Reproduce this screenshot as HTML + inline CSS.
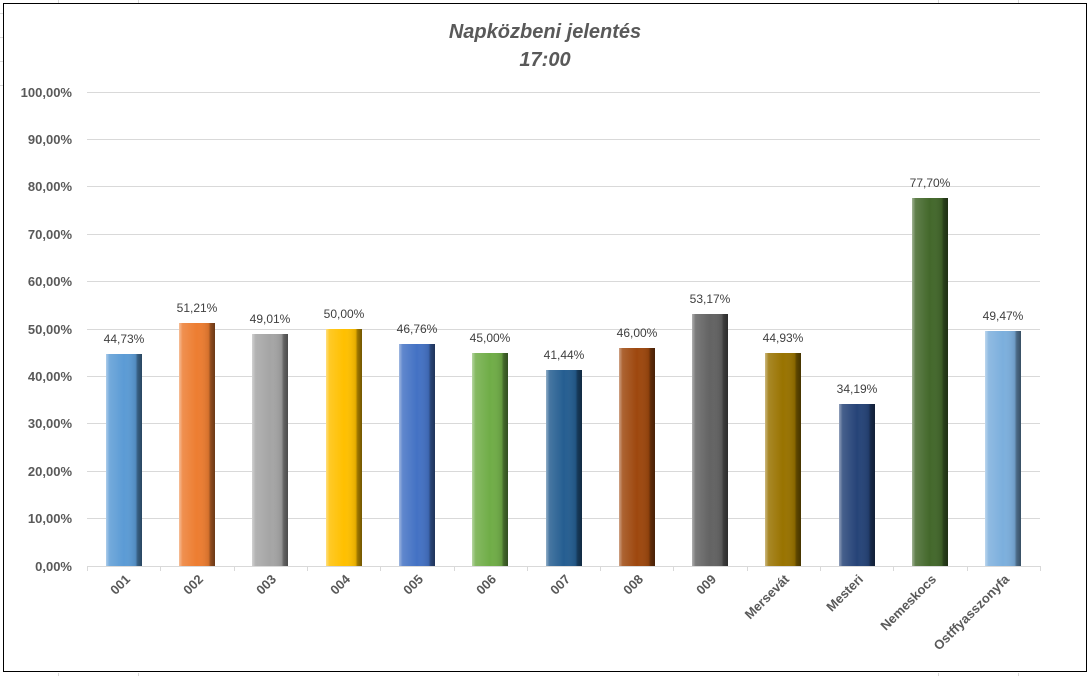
<!DOCTYPE html>
<html><head><meta charset="utf-8"><style>body{margin:0;background:#fff}svg{display:block}</style></head><body>
<svg width="1091" height="676" xmlns="http://www.w3.org/2000/svg" font-family="Liberation Sans, sans-serif">
<defs>
<linearGradient id="sh" x1="0" x2="1" y1="0" y2="0">
<stop offset="0" stop-color="#fff" stop-opacity="0.5"/><stop offset="0.1" stop-color="#fff" stop-opacity="0.15"/>
<stop offset="0.5" stop-color="#fff" stop-opacity="0"/><stop offset="0.82" stop-color="#000" stop-opacity="0.1"/>
<stop offset="0.88" stop-color="#000" stop-opacity="0.4"/>
<stop offset="1" stop-color="#000" stop-opacity="0.55"/></linearGradient>
</defs>
<g stroke="#d9d9d9" stroke-width="1">
<line x1="58.5" y1="0" x2="58.5" y2="3"/><line x1="138.5" y1="0" x2="138.5" y2="3"/><line x1="938.5" y1="0" x2="938.5" y2="3"/><line x1="1018.5" y1="0" x2="1018.5" y2="3"/>
<line x1="58.5" y1="673" x2="58.5" y2="676"/><line x1="138.5" y1="673" x2="138.5" y2="676"/><line x1="938.5" y1="673" x2="938.5" y2="676"/><line x1="1018.5" y1="673" x2="1018.5" y2="676"/>
<line x1="0" y1="13.5" x2="3" y2="13.5"/><line x1="0" y1="37.5" x2="3" y2="37.5"/><line x1="0" y1="61.5" x2="3" y2="61.5"/><line x1="0" y1="85.5" x2="3" y2="85.5"/>
</g>
<rect x="3.5" y="3.5" width="1083" height="668" fill="#fff" stroke="#000" stroke-width="1"/>
<text x="545" y="38" text-anchor="middle" font-size="20" font-weight="bold" font-style="italic" fill="#595959">Napközbeni jelentés</text>
<text x="545" y="66" text-anchor="middle" font-size="20" font-weight="bold" font-style="italic" fill="#595959">17:00</text>
<g stroke="#d9d9d9" stroke-width="1">
<line x1="87" x2="1040" y1="566.5" y2="566.5"/><line x1="87" x2="1040" y1="518.5" y2="518.5"/><line x1="87" x2="1040" y1="471.5" y2="471.5"/><line x1="87" x2="1040" y1="423.5" y2="423.5"/><line x1="87" x2="1040" y1="376.5" y2="376.5"/><line x1="87" x2="1040" y1="329.5" y2="329.5"/><line x1="87" x2="1040" y1="281.5" y2="281.5"/><line x1="87" x2="1040" y1="234.5" y2="234.5"/><line x1="87" x2="1040" y1="186.5" y2="186.5"/><line x1="87" x2="1040" y1="139.5" y2="139.5"/><line x1="87" x2="1040" y1="92.5" y2="92.5"/>
<line x1="87.5" x2="87.5" y1="566" y2="571"/><line x1="160.5" x2="160.5" y1="566" y2="571"/><line x1="234.5" x2="234.5" y1="566" y2="571"/><line x1="307.5" x2="307.5" y1="566" y2="571"/><line x1="380.5" x2="380.5" y1="566" y2="571"/><line x1="454.5" x2="454.5" y1="566" y2="571"/><line x1="527.5" x2="527.5" y1="566" y2="571"/><line x1="600.5" x2="600.5" y1="566" y2="571"/><line x1="673.5" x2="673.5" y1="566" y2="571"/><line x1="747.5" x2="747.5" y1="566" y2="571"/><line x1="820.5" x2="820.5" y1="566" y2="571"/><line x1="893.5" x2="893.5" y1="566" y2="571"/><line x1="967.5" x2="967.5" y1="566" y2="571"/><line x1="1040.5" x2="1040.5" y1="566" y2="571"/>
</g>
<g font-size="13" font-weight="bold" fill="#595959" text-anchor="end">
<text x="72" y="571">0,00%</text><text x="72" y="523">10,00%</text><text x="72" y="476">20,00%</text><text x="72" y="428">30,00%</text><text x="72" y="381">40,00%</text><text x="72" y="334">50,00%</text><text x="72" y="286">60,00%</text><text x="72" y="239">70,00%</text><text x="72" y="191">80,00%</text><text x="72" y="144">90,00%</text><text x="72" y="97">100,00%</text>
</g>
<g>
<rect x="106" y="354" width="36" height="212" fill="#5B9BD5"/>
<rect x="179" y="323" width="36" height="243" fill="#ED7D31"/>
<rect x="252" y="334" width="36" height="232" fill="#A5A5A5"/>
<rect x="326" y="329" width="36" height="237" fill="#FFC000"/>
<rect x="399" y="344" width="36" height="222" fill="#4472C4"/>
<rect x="472" y="353" width="36" height="213" fill="#70AD47"/>
<rect x="546" y="370" width="36" height="196" fill="#255E91"/>
<rect x="619" y="348" width="36" height="218" fill="#9E480E"/>
<rect x="692" y="314" width="36" height="252" fill="#636363"/>
<rect x="765" y="353" width="36" height="213" fill="#997300"/>
<rect x="839" y="404" width="36" height="162" fill="#264478"/>
<rect x="912" y="198" width="36" height="368" fill="#43682B"/>
<rect x="985" y="331" width="36" height="235" fill="#7CAFDD"/>
</g>
<g fill="url(#sh)">
<rect x="106" y="354" width="36" height="212"/>
<rect x="179" y="323" width="36" height="243"/>
<rect x="252" y="334" width="36" height="232"/>
<rect x="326" y="329" width="36" height="237"/>
<rect x="399" y="344" width="36" height="222"/>
<rect x="472" y="353" width="36" height="213"/>
<rect x="546" y="370" width="36" height="196"/>
<rect x="619" y="348" width="36" height="218"/>
<rect x="692" y="314" width="36" height="252"/>
<rect x="765" y="353" width="36" height="213"/>
<rect x="839" y="404" width="36" height="162"/>
<rect x="912" y="198" width="36" height="368"/>
<rect x="985" y="331" width="36" height="235"/>
</g>
<g font-size="12" fill="#404040" text-anchor="middle">
<text x="124" y="343">44,73%</text>
<text x="197" y="312">51,21%</text>
<text x="270" y="323">49,01%</text>
<text x="344" y="318">50,00%</text>
<text x="417" y="333">46,76%</text>
<text x="490" y="342">45,00%</text>
<text x="564" y="359">41,44%</text>
<text x="637" y="337">46,00%</text>
<text x="710" y="303">53,17%</text>
<text x="783" y="342">44,93%</text>
<text x="857" y="393">34,19%</text>
<text x="930" y="187">77,70%</text>
<text x="1003" y="320">49,47%</text>
</g>
<g font-size="13" font-weight="bold" fill="#595959" text-anchor="end">
<text transform="translate(131,580) rotate(-45)">001</text>
<text transform="translate(204,580) rotate(-45)">002</text>
<text transform="translate(277,580) rotate(-45)">003</text>
<text transform="translate(351,580) rotate(-45)">004</text>
<text transform="translate(424,580) rotate(-45)">005</text>
<text transform="translate(497,580) rotate(-45)">006</text>
<text transform="translate(571,580) rotate(-45)">007</text>
<text transform="translate(644,580) rotate(-45)">008</text>
<text transform="translate(717,580) rotate(-45)">009</text>
<text transform="translate(790,580) rotate(-45)">Mersevát</text>
<text transform="translate(864,580) rotate(-45)">Mesteri</text>
<text transform="translate(937,580) rotate(-45)">Nemeskocs</text>
<text transform="translate(1010,580) rotate(-45)">Ostffyasszonyfa</text>
</g>
</svg>
</body></html>
